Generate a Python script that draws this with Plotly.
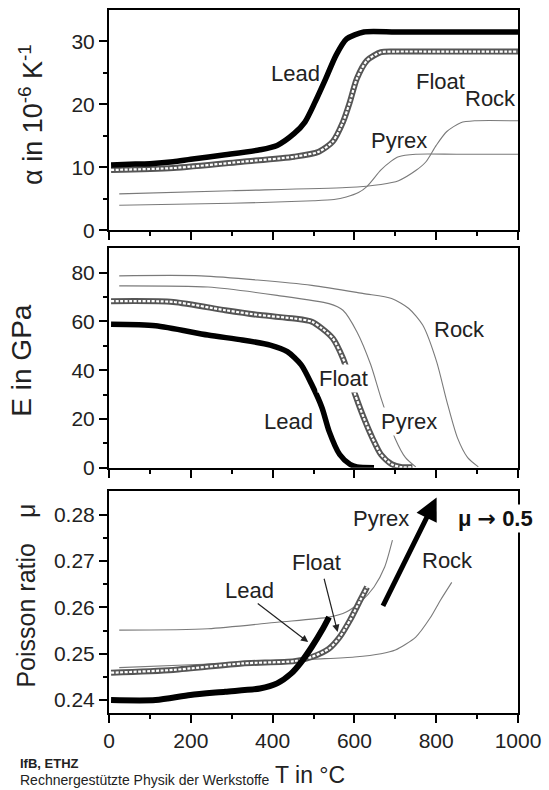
import plotly.graph_objects as go

FONT = "Liberation Sans, Arial, sans-serif"

# ---- alpha (thermal expansion) in 1e-6/K ----
T_a_lead = [5, 50, 100, 157, 200, 284, 369, 411, 453, 479, 504, 530, 555, 581, 623, 700, 800, 900, 1000]
a_lead = [10.4, 10.5, 10.6, 10.9, 11.3, 12.0, 12.8, 13.5, 15.4, 17.2, 20.4, 24.1, 27.8, 30.4, 31.5, 31.5, 31.5, 31.5, 31.5]
T_a_float = [5, 157, 326, 453, 513, 547, 572, 589, 606, 631, 665, 699, 800, 900, 1000]
a_float = [9.6, 9.9, 10.9, 11.7, 12.5, 14.1, 17.2, 20.4, 24.1, 27.0, 28.3, 28.4, 28.4, 28.4, 28.4]
T_a_pyrex = [25, 300, 500, 550, 580, 610, 631, 665, 690, 708, 750, 850, 1000]
a_pyrex = [4.0, 4.3, 4.7, 4.9, 5.3, 6.0, 7.0, 9.6, 11.0, 11.7, 12.1, 12.1, 12.1]
T_a_rock = [25, 300, 580, 665, 708, 750, 775, 800, 826, 860, 894, 1000]
a_rock = [5.8, 6.3, 6.8, 7.3, 7.9, 9.5, 10.9, 13.5, 15.7, 17.1, 17.4, 17.4]

# ---- E modulus in GPa ----
T_E_lead = [5, 114, 242, 326, 394, 436, 470, 496, 521, 538, 564, 589, 606, 648]
E_lead = [58.8, 58.2, 54.4, 52.4, 50.3, 47.6, 42.2, 34.0, 24.5, 15.0, 5.4, 1.4, 0.3, 0.0]
T_E_float = [5, 157, 284, 369, 453, 496, 521, 547, 572, 602, 623, 644, 665, 691, 716, 742]
E_float = [68.3, 68.0, 64.6, 62.6, 61.2, 59.9, 57.1, 53.1, 44.9, 29.9, 20.4, 12.2, 5.4, 1.4, 0.2, 0.2]
T_E_pyrex = [25, 242, 411, 538, 572, 606, 640, 665, 699, 725, 750]
E_pyrex = [74.6, 74.1, 70.7, 67.3, 64.6, 55.8, 42.2, 28.6, 12.2, 4.1, 0.3]
T_E_rock = [25, 225, 496, 623, 691, 733, 767, 801, 826, 852, 877, 903]
E_rock = [78.7, 78.7, 74.8, 71.4, 69.4, 65.3, 58.5, 43.5, 27.2, 12.2, 4.1, 0.3]

# ---- Poisson ratio ----
T_m_lead = [5, 114, 199, 284, 369, 411, 445, 470, 496, 521, 538]
m_lead = [0.2400, 0.2400, 0.2411, 0.2418, 0.2425, 0.2436, 0.2457, 0.2482, 0.2515, 0.2551, 0.2579]
T_m_float = [5, 157, 326, 453, 496, 538, 564, 589, 614, 631]
m_float = [0.2459, 0.2465, 0.2479, 0.2484, 0.2493, 0.2511, 0.2536, 0.2572, 0.2615, 0.2644]
T_m_pyrex = [25, 242, 411, 538, 580, 614, 648, 674, 693]
m_pyrex = [0.2551, 0.2554, 0.2568, 0.2579, 0.2590, 0.2611, 0.2644, 0.2687, 0.2745]
T_m_rock = [25, 200, 400, 500, 600, 665, 700, 750, 785, 810, 838]
m_rock = [0.2470, 0.2476, 0.2483, 0.2488, 0.2493, 0.2500, 0.2508, 0.2536, 0.2577, 0.2615, 0.2654]

x_ticks = [0, 200, 400, 600, 800, 1000]

fig = go.Figure()

def thin(x, y, xa, ya):
    fig.add_trace(go.Scatter(x=x, y=y, xaxis=xa, yaxis=ya, mode="lines",
                             line=dict(color="#7a7a7a", width=1.1, shape="spline", smoothing=0.7),
                             showlegend=False, hoverinfo="skip"))

def lead(x, y, xa, ya, w=5.5):
    fig.add_trace(go.Scatter(x=x, y=y, xaxis=xa, yaxis=ya, mode="lines",
                             line=dict(color="black", width=w, shape="spline", smoothing=0.7),
                             showlegend=False, hoverinfo="skip"))

def flt(x, y, xa, ya):
    fig.add_trace(go.Scatter(x=x, y=y, xaxis=xa, yaxis=ya, mode="lines",
                             line=dict(color="#555555", width=6, shape="spline", smoothing=0.7),
                             showlegend=False, hoverinfo="skip"))
    fig.add_trace(go.Scatter(x=x, y=y, xaxis=xa, yaxis=ya, mode="lines",
                             line=dict(color="white", width=2.2, shape="spline", smoothing=0.7,
                                       dash="3px,1.5px"),
                             showlegend=False, hoverinfo="skip"))

# top panel
thin(T_a_pyrex, a_pyrex, "x", "y")
thin(T_a_rock, a_rock, "x", "y")
flt(T_a_float, a_float, "x", "y")
lead(T_a_lead, a_lead, "x", "y")
# middle panel
thin(T_E_pyrex, E_pyrex, "x2", "y2")
thin(T_E_rock, E_rock, "x2", "y2")
flt(T_E_float, E_float, "x2", "y2")
lead(T_E_lead, E_lead, "x2", "y2")
# bottom panel
thin(T_m_pyrex, m_pyrex, "x3", "y3")
thin(T_m_rock, m_rock, "x3", "y3")
flt(T_m_float, m_float, "x3", "y3")
lead(T_m_lead, m_lead, "x3", "y3", w=6)

axis_common = dict(showline=True, linecolor="black", linewidth=2, mirror=True,
                   ticks="outside", tickwidth=2, tickcolor="black", ticklen=8,
                   showgrid=False, zeroline=False,
                   tickfont=dict(family=FONT, size=21, color="#222"))

xcommon = dict(axis_common, range=[0, 1000], tickvals=x_ticks,
               minor=dict(ticks="outside", dtick=100, tick0=0, ticklen=4, tickwidth=2, tickcolor="black"))

fig.update_layout(
    width=549, height=790,
    margin=dict(l=109, r=27, t=8, b=77),
    paper_bgcolor="white", plot_bgcolor="white",
    font=dict(family=FONT, color="#222"),
    xaxis=dict(xcommon, anchor="y", showticklabels=False),
    xaxis2=dict(xcommon, anchor="y2", showticklabels=False),
    xaxis3=dict(xcommon, anchor="y3", showticklabels=True),
    yaxis=dict(axis_common, domain=[0.6865, 1.0], anchor="x", range=[0, 35],
               tickvals=[0, 10, 20, 30],
               minor=dict(ticks="outside", tickvals=[5, 15, 25], ticklen=4, tickwidth=2, tickcolor="black")),
    yaxis2=dict(axis_common, domain=[0.349, 0.661], anchor="x2", range=[0, 90],
                tickvals=[0, 20, 40, 60, 80],
                minor=dict(ticks="outside", tickvals=[10, 30, 50, 70], ticklen=4, tickwidth=2, tickcolor="black")),
    yaxis3=dict(axis_common, domain=[0.0, 0.3163], anchor="x3", range=[0.2372, 0.2852],
                tickvals=[0.24, 0.25, 0.26, 0.27, 0.28], tickformat=".2f",
                minor=dict(ticks="outside", tickvals=[0.245, 0.255, 0.265, 0.275], ticklen=4, tickwidth=2, tickcolor="black")),
)

LF = dict(family=FONT, size=22, color="#222")
ann = []

def lab(text, x, y, xr, yr, bg=None, font=LF):
    d = dict(text=text, x=x, y=y, xref=xr, yref=yr, showarrow=False, font=font,
             xanchor="center", yanchor="middle")
    if bg:
        d["bgcolor"] = bg
    ann.append(d)

# top labels
lab("Lead", 455, 24.9, "x", "y")
lab("Float", 811, 23.6, "x", "y")
lab("Rock", 932, 20.9, "x", "y")
lab("Pyrex", 708, 14.3, "x", "y")
# middle labels
lab("Rock", 856, 56.5, "x2", "y2")
lab("Float", 574, 36.7, "x2", "y2", bg="white")
lab("Lead", 438, 19.0, "x2", "y2")
lab("Pyrex", 733, 19.0, "x2", "y2", bg="white")
# bottom labels
lab("Lead", 343, 0.2637, "x3", "y3")
lab("Float", 508, 0.2697, "x3", "y3")
lab("Pyrex", 666, 0.2792, "x3", "y3")
lab("Rock", 828, 0.2702, "x3", "y3")
lab("<b>μ <span style=\"font-family:DejaVu Sans\">→</span> 0.5</b>", 945, 0.2792, "x3", "y3", bg="white",
    font=dict(family=FONT, size=22, color="#111"))

# arrows in bottom panel
ann.append(dict(x=487, y=0.2525, ax=360, ay=0.2611, xref="x3", yref="y3", axref="x3", ayref="y3",
                text="", showarrow=True, arrowhead=2, arrowsize=1.2, arrowwidth=1.2, arrowcolor="#222"))
ann.append(dict(x=559, y=0.2547, ax=525, ay=0.2665, xref="x3", yref="y3", axref="x3", ayref="y3",
                text="", showarrow=True, arrowhead=2, arrowsize=1.2, arrowwidth=1.2, arrowcolor="#222"))
ann.append(dict(x=801, y=0.2837, ax=668, ay=0.2600, xref="x3", yref="y3", axref="x3", ayref="y3",
                text="", showarrow=True, arrowhead=2, arrowsize=0.9, arrowwidth=5, arrowcolor="black"))

# axis titles
ann.append(dict(text="α in 10<sup>-6</sup> K<sup>-1</sup>", x=-0.191, y=0.852, xref="paper", yref="paper",
                textangle=-90, showarrow=False, font=dict(family=FONT, size=27, color="#222"),
                xanchor="center", yanchor="middle"))
ann.append(dict(text="E in GPa", x=-0.213, y=0.501, xref="paper", yref="paper",
                textangle=-90, showarrow=False, font=dict(family=FONT, size=28, color="#222"),
                xanchor="center", yanchor="middle"))
ann.append(dict(text="Poisson ratio\u2003μ", x=-0.203, y=0.167, xref="paper", yref="paper",
                textangle=-90, showarrow=False, font=dict(family=FONT, size=25, color="#222"),
                xanchor="center", yanchor="middle"))
ann.append(dict(text="T in °C", x=0.4915, y=-0.088, xref="paper", yref="paper",
                showarrow=False, font=dict(family=FONT, size=23, color="#222"),
                xanchor="center", yanchor="middle"))
# footer
ann.append(dict(text="<b>IfB, ETHZ</b>", x=-0.2228, y=-0.0723, xref="paper", yref="paper",
                showarrow=False, font=dict(family=FONT, size=13, color="#222"),
                xanchor="left", yanchor="middle"))
ann.append(dict(text="Rechnergestützte Physik der Werkstoffe", x=-0.2228, y=-0.096, xref="paper", yref="paper",
                showarrow=False, font=dict(family=FONT, size=14, color="#222"),
                xanchor="left", yanchor="middle"))

fig.update_layout(annotations=ann)
fig.write_html("out.html")
